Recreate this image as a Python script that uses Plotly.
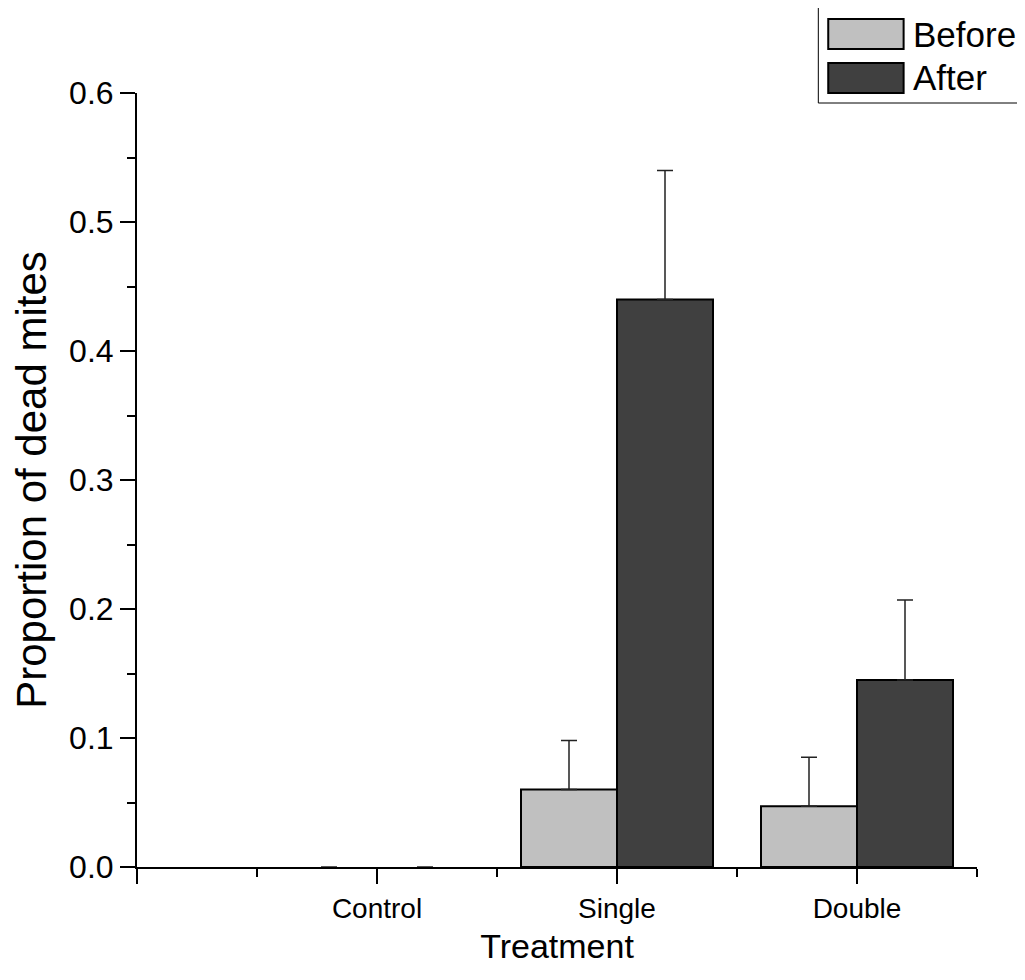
import plotly.graph_objects as go

categories = ["Control", "Single", "Double"]
cat_pos = [1, 2, 3]
before_vals = [0.0, 0.060, 0.047]
before_err = [None, 0.038, 0.038]
after_vals = [0.0, 0.440, 0.145]
after_err = [None, 0.100, 0.062]
series_names = ["Before", "After"]
series_colors = ["#c0c0c0", "#404040"]

FONT = "Liberation Sans, Arial, sans-serif"

fig = go.Figure()
for name, vals, errs, col in zip(series_names, [before_vals, after_vals],
                                 [before_err, after_err], series_colors):
    fig.add_trace(go.Bar(
        x=cat_pos, y=vals, name=name, showlegend=False,
        marker=dict(color=col,
                    line=dict(color="#000000", width=[0 if v == 0 else 2 for v in vals])),
        error_y=dict(type="data", array=errs,
                     arrayminus=[None if e is None else 0 for e in errs],
                     symmetric=False, color="#222222", thickness=1.5, width=8,
                     visible=True),
    ))

# page body has an 8px margin, so the figure is sized/offset to compensate
fig.update_layout(
    width=1017, height=972,
    margin=dict(l=122, r=48, t=85, b=113),
    paper_bgcolor="white", plot_bgcolor="white",
    barmode="group", bargap=0.2, bargroupgap=0,
    xaxis=dict(
        range=[0, 3.5], showgrid=False, zeroline=False,
        showline=True, linecolor="black", linewidth=2,
        tickmode="array", tickvals=[0] + cat_pos, ticktext=[""] + categories,
        ticks="outside", ticklen=15, tickwidth=2, tickcolor="black",
        tickfont=dict(family=FONT, size=28, color="black"),
        minor=dict(tickmode="array", tickvals=[0.5, 1.5, 2.5, 3.5],
                   ticks="outside", ticklen=8, tickwidth=2, tickcolor="black"),
        title=dict(text="Treatment", font=dict(family=FONT, size=34, color="black"),
                   standoff=12),
    ),
    yaxis=dict(
        range=[0, 0.6], showgrid=False, zeroline=False,
        showline=True, linecolor="black", linewidth=2,
        tickmode="linear", tick0=0, dtick=0.1, tickformat=".1f",
        ticks="outside", ticklen=15, tickwidth=2, tickcolor="black",
        tickfont=dict(family=FONT, size=32, color="black"),
        minor=dict(dtick=0.05, ticks="outside", ticklen=8, tickwidth=2, tickcolor="black"),
        title=dict(text="Proportion of dead mites",
                   font=dict(family=FONT, size=42, color="black"), standoff=20),
    ),
)

# custom legend (box, swatches, labels) in plot-area paper fractions
PW, PH, PL, PB = 847.0, 774.0, 130.0, 867.0
shapes = [dict(type="rect", xref="paper", yref="paper",
               x0=(817 - PL) / PW, x1=(1022 - PL) / PW,
               y0=(PB - 103) / PH, y1=(PB - 1) / PH,
               line=dict(color="black", width=1), fillcolor="white")]
rows = [(19, 49), (63, 93)]
for (top, bot), col, name in zip(rows, series_colors, series_names):
    shapes.append(dict(type="rect", xref="paper", yref="paper",
                       x0=(827 - PL) / PW, x1=(903 - PL) / PW,
                       y0=(PB - bot) / PH, y1=(PB - top) / PH,
                       line=dict(color="black", width=2), fillcolor=col))
    fig.add_annotation(xref="paper", yref="paper",
                       x=(910 - PL) / PW, y=(PB - (top + bot) / 2) / PH,
                       text=name, showarrow=False, xanchor="left", yanchor="middle",
                       font=dict(family=FONT, size=35, color="black"))
fig.update_layout(shapes=shapes)

fig.write_html("out.html")
